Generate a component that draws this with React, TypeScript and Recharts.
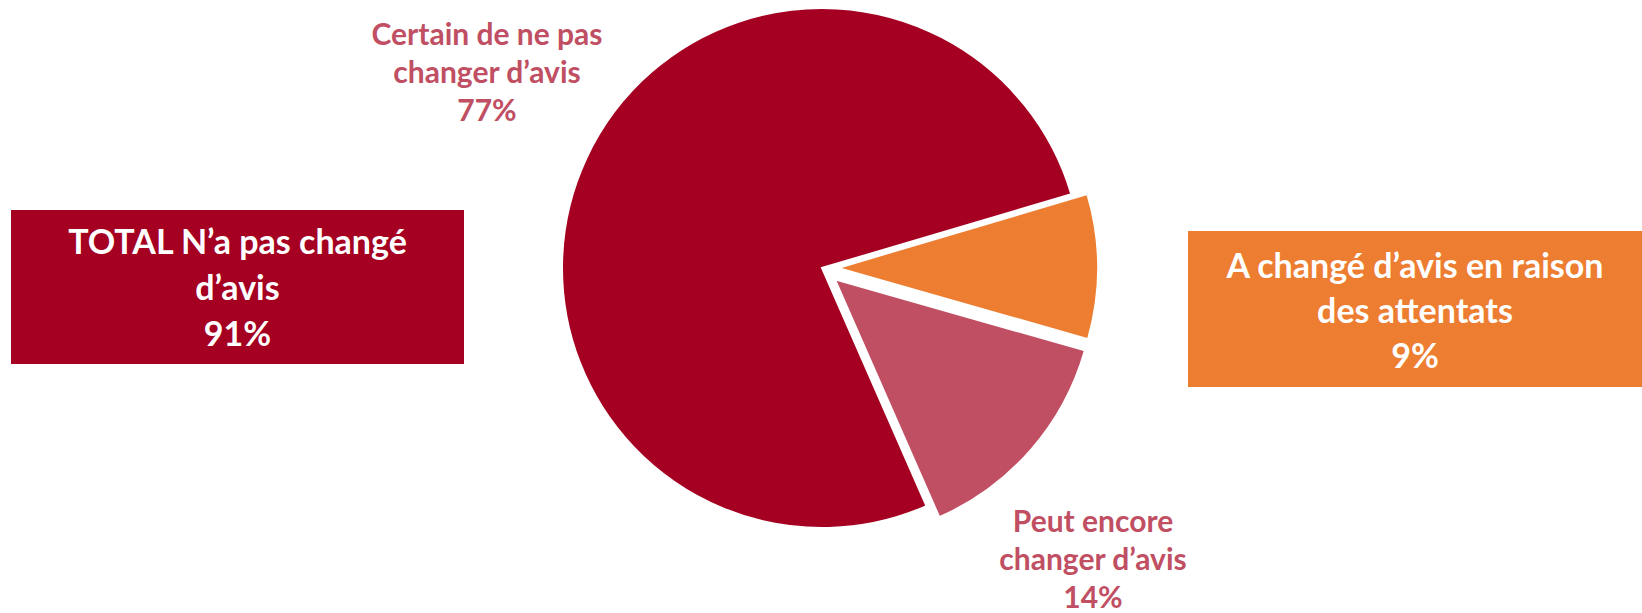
import { PieChart, Pie, Cell } from "recharts";

// slices, clockwise from the top edge of the orange one
const categories = ["A changé d’avis en raison des attentats", "Peut encore changer d’avis", "Certain de ne pas changer d’avis"];
const values = [9, 14, 77];
const totalName = "TOTAL N’a pas changé d’avis";
const totalValue = 91;

// how each label breaks into lines
const orangeLines = ["A changé d’avis en raison", "des attentats"];
const pinkLines = ["Peut encore", "changer d’avis"];
const certainLines = ["Certain de ne pas", "changer d’avis"];
const totalLines = ["TOTAL N’a pas changé", "d’avis"];

const colors = ["#ED7D31", "#C04F63", "#A50021"];
const explode = [16, 17, 0];

const START = 16.5;
const CX = 822;
const CY = 268;
const R = 260;
const FONT = "Lato, 'Open Sans', sans-serif";

const data = categories.map((name, i) => ({ name, value: values[i] }));

const sum = values.reduce((a, b) => a + b, 0);
let acc = 0;
const mids = values.map((v) => {
  const span = (v / sum) * 360;
  const m = START - acc - span / 2;
  acc += span;
  return m;
});

function Lines({ lines, value }: { lines: string[]; value: number }) {
  return (
    <>
      {lines.map((l) => (
        <div key={l}>{l}</div>
      ))}
      <div>{value}%</div>
    </>
  );
}

export default function App() {
  return (
    <div style={{ position: "absolute", left: 0, top: 0, width: 1642, height: 613, background: "#fff", fontFamily: FONT, fontWeight: 700 }}>
      <PieChart width={1642} height={613} margin={{ top: 0, right: 0, bottom: 0, left: 0 }}>
        {[2, 0, 1].map((k) => {
          const rad = (mids[k] * Math.PI) / 180;
          return (
            <Pie
              key={k}
              data={data}
              dataKey="value"
              nameKey="name"
              cx={CX + explode[k] * Math.cos(rad)}
              cy={CY - explode[k] * Math.sin(rad)}
              outerRadius={R}
              innerRadius={0}
              startAngle={START}
              endAngle={START - 360}
              label={false}
              labelLine={false}
              legendType="none"
              isAnimationActive={false}
            >
              {data.map((d, i) => (
                <Cell key={d.name} fill={i === k ? colors[i] : "none"} stroke={i === k ? "#fff" : "none"} strokeWidth={2} />
              ))}
            </Pie>
          );
        })}
      </PieChart>

      {/* slice labels */}
      <div style={{ position: "absolute", left: 487, top: 14, transform: "translateX(-50%)", whiteSpace: "nowrap", textAlign: "center", color: colors[1], fontSize: 30, lineHeight: "38px" }}>
        <Lines lines={certainLines} value={values[2]} />
      </div>
      <div style={{ position: "absolute", left: 1093, top: 501, transform: "translateX(-50%)", whiteSpace: "nowrap", textAlign: "center", color: colors[1], fontSize: 30, lineHeight: "38px" }}>
        <Lines lines={pinkLines} value={values[1]} />
      </div>

      {/* callout boxes */}
      <div style={{ position: "absolute", left: 11, top: 210, width: 453, height: 154, background: colors[2], color: "#fff", textAlign: "center", fontSize: 34, lineHeight: "46px", boxSizing: "border-box", paddingTop: 8, whiteSpace: "nowrap" }}>
        <Lines lines={totalLines} value={totalValue} />
      </div>
      <div style={{ position: "absolute", left: 1188, top: 231, width: 454, height: 156, background: colors[0], color: "#fff", textAlign: "center", fontSize: 34, lineHeight: "45px", boxSizing: "border-box", paddingTop: 11, whiteSpace: "nowrap" }}>
        <Lines lines={orangeLines} value={values[0]} />
      </div>
    </div>
  );
}
